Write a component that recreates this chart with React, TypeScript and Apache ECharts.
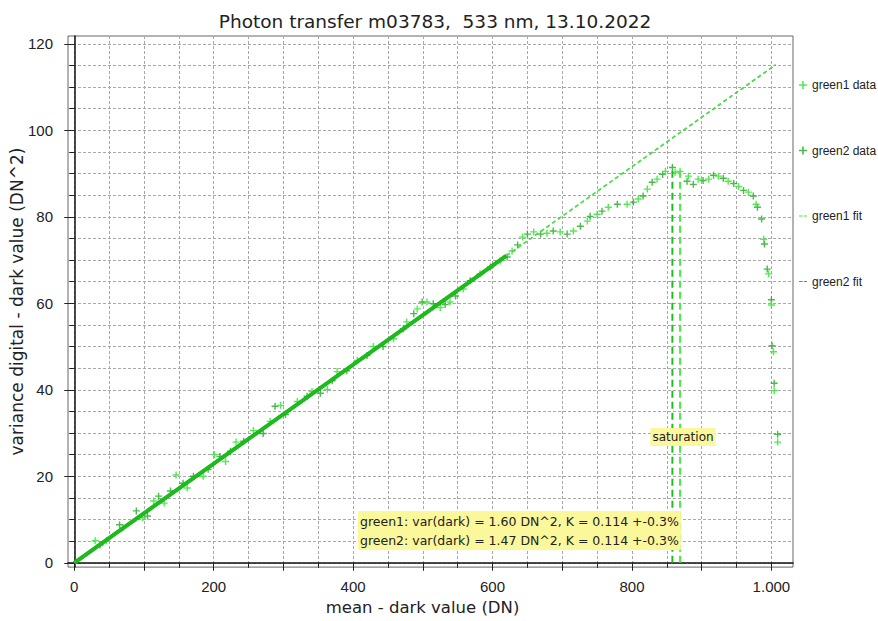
import React, { useEffect, useRef } from "react";
import * as echarts from "echarts";

const FONT = "'DejaVu Sans', Verdana, sans-serif";
const NUMFONT = "'Liberation Sans', Arial, sans-serif";

const titleText = "Photon transfer m03783,  533 nm, 13.10.2022";
const xName = "mean - dark value (DN)";
const yName = "variance digital - dark value (DN^2)";

const xMin = -9;
const xMax = 1031;
const yMin = -1;
const yMax = 121.8;

const xGridValues = [0, 50, 100, 150, 200, 250, 300, 350, 400, 450, 500, 550, 600, 650, 700, 750, 800, 850, 900, 950, 1000];
const xMajorTickValues = [0, 100, 200, 300, 400, 500, 600, 700, 800, 900, 1000];
const xLabelValues = [0, 200, 400, 600, 800, 1000];
const yGridValues = [0, 5, 10, 15, 20, 25, 30, 35, 40, 45, 50, 55, 60, 65, 70, 75, 80, 85, 90, 95, 100, 105, 110, 115, 120];
const yLabelValues = [0, 20, 40, 60, 80, 100, 120];

const green1Data: number[][] = [
  [30, 5.1], [46, 5.1], [70, 8.1], [98, 10.4], [114, 14.3], [129, 13.8], [146, 20.3], [162, 17.3],
  [185, 20], [201, 25], [217, 23.4], [232, 27.9], [257, 30.6], [281, 32.7], [296, 36.4], [320, 37.3],
  [341, 39.6], [363, 40.1], [377, 44.2], [406, 46.8], [429, 50], [458, 51.8], [477, 55.7], [492, 58.7],
  [506, 60.3], [525, 59], [539, 60.3], [558, 63.3], [582, 66.8], [611, 69.8], [628, 72.1], [643, 75.3],
  [659, 76.5], [678, 76.2], [697, 76.5], [716, 76.7], [736, 79], [750, 80.6], [766, 82.2], [793, 82.9],
  [809, 84.1], [822, 86.4], [836, 88.7], [848, 90.5], [862, 90.3], [869, 90.5], [881, 89.4], [895, 88.7],
  [910, 88.7], [924, 89.4], [938, 88.2], [953, 87], [967, 85.7], [978, 82.9], [989, 74.8], [996, 66.8],
  [1000, 59.6], [1003, 48.8], [1004, 39.8], [1009, 27.9],
];

const green2Data: number[][] = [
  [37, 4.1], [65, 8.8], [89, 12], [105, 10.8], [121, 15.4], [138, 16.6], [156, 18.4], [171, 20],
  [192, 21.6], [209, 24.6], [224, 25.8], [243, 28.1], [271, 29.9], [288, 36.2], [303, 34.3], [334, 38.5],
  [353, 39.2], [370, 42.1], [391, 44.4], [420, 47.9], [443, 50], [472, 54.1], [487, 57.6], [499, 60.3],
  [515, 59.9], [532, 59.7], [547, 61.7], [568, 65.2], [597, 68.4], [621, 70.7], [636, 73.5], [650, 76],
  [669, 76], [687, 76.7], [707, 76], [726, 77.8], [740, 80.1], [757, 81.3], [779, 82.9], [802, 83.4],
  [816, 84.8], [829, 88], [844, 89.8], [858, 91.4], [879, 88.2], [888, 87.5], [902, 88.4], [917, 89.6],
  [931, 88.9], [946, 87.7], [960, 86.1], [974, 84.8], [980, 82.2], [986, 79.5], [990, 73.7], [994, 67.9],
  [1000, 60.8], [1001, 50.2], [1004, 41.5], [1009, 29.7],
];

// fit lines: solid over fit range, dashed extrapolation
const green1FitRange: number[][] = [[0, 0], [620, 71.0]];
const green1FitExtra: number[][] = [[620, 71.0], [1006, 115.2]];
const green2FitRange: number[][] = [[0, 0], [620, 71.0]];
const green2FitExtra: number[][] = [[620, 71.0], [1006, 115.1]];

// saturation markers
const green2Saturation: number[][] = [[858, 0], [858, 91.6]];
const green1Saturation: number[][] = [[869, 0], [869, 91.0]];

const annotationLines = [
  "green1: var(dark) = 1.60 DN^2, K = 0.114 +-0.3%",
  "green2: var(dark) = 1.47 DN^2, K = 0.114 +-0.3%",
];
const saturationLabel = "saturation";

const C1 = "#3fe83f";
const C2 = "#1ea81e";
const PLUS = "path://M3.2,0H4.8V3.2H8V4.8H4.8V8H3.2V4.8H0V3.2H3.2Z";
const DASH = "path://M0,4H4.5V5.5H0Z M6,4H10V5.5H6Z";

export default function App() {
  const ref = useRef<HTMLDivElement>(null);
  useEffect(() => {
    if (!ref.current) return;
    const chart = echarts.init(ref.current, undefined, { renderer: "svg" });
    const gridStyle = { show: true, lineStyle: { color: "#a8a8a8", type: [3, 2] as any, width: 1 } };
    const option: any = {
      animation: false,
      backgroundColor: "#ffffff",
      textStyle: { fontFamily: FONT },
      title: {
        text: titleText,
        left: 430,
        textAlign: "center",
        top: 7,
        textStyle: { fontSize: 18.5, fontWeight: "normal", color: "#222", fontFamily: FONT },
      },
      grid: { left: 68, right: 85, top: 36, bottom: 52, show: true, borderColor: "#666", borderWidth: 1, containLabel: false },
      xAxis: [
        {
          type: "value", min: xMin, max: xMax, position: "bottom",
          name: xName, nameLocation: "middle", nameGap: 30,
          nameTextStyle: { fontSize: 16.5, color: "#222", fontFamily: FONT, padding: [0, 16, 0, 0] },
          axisLine: { show: true, lineStyle: { color: "#111", width: 1.5 } },
          axisTick: { show: true, customValues: xGridValues, length: 5, lineStyle: { color: "#222" } },
          axisLabel: {
            show: true, customValues: xLabelValues, margin: 12, fontSize: 15, color: "#222", fontFamily: NUMFONT,
            formatter: (v: number) => (v >= 1000 ? "1.000" : String(v)),
          },
          splitLine: gridStyle,
        },
        {
          type: "value", min: xMin, max: xMax, position: "bottom", gridIndex: 0,
          axisLine: { show: false },
          axisTick: { show: true, customValues: xMajorTickValues, length: 8, lineStyle: { color: "#222" } },
          axisLabel: { show: false },
          splitLine: { show: false },
        },
      ],
      yAxis: [
        {
          type: "value", min: yMin, max: yMax, position: "left",
          name: yName, nameLocation: "middle", nameGap: 43,
          nameTextStyle: { fontSize: 17, color: "#222", fontFamily: FONT },
          axisLine: { show: true, lineStyle: { color: "#111", width: 1.5 } },
          axisTick: { show: true, customValues: yGridValues, length: 5, lineStyle: { color: "#222" } },
          axisLabel: { show: false },
          splitLine: gridStyle,
        },
        {
          type: "value", min: yMin, max: yMax, position: "left",
          axisLine: { show: false },
          axisTick: { show: true, customValues: yLabelValues, length: 10, lineStyle: { color: "#222" } },
          axisLabel: { show: true, customValues: yLabelValues, margin: 15, fontSize: 15, color: "#222", fontFamily: NUMFONT },
          splitLine: { show: false },
        },
      ],
      legend: {
        orient: "vertical", left: 794, top: 74, itemGap: 53.5, itemWidth: 8, itemHeight: 9,
        selectedMode: false,
        textStyle: { fontSize: 12, color: "#222", fontFamily: NUMFONT },
        data: [
          { name: "green1 data", icon: PLUS, itemStyle: { color: C1 } },
          { name: "green2 data", icon: PLUS, itemStyle: { color: C2 } },
          { name: "green1 fit", icon: DASH, itemStyle: { color: "#44e844", borderWidth: 0 }, lineStyle: { color: "#44e844" } },
          { name: "green2 fit", icon: DASH, itemStyle: { color: "#22bb22", borderWidth: 0 }, lineStyle: { color: "#22bb22" } },
        ],
      },
      series: [
        {
          name: "green2 data", type: "scatter", data: green2Data, symbol: PLUS, symbolSize: 7,
          itemStyle: { color: C2 },
        },
        {
          name: "green1 data", type: "scatter", data: green1Data, symbol: PLUS, symbolSize: 7,
          itemStyle: { color: C1, opacity: 0.9 },
        },
        {
          name: "green2 fit", type: "line", data: green2FitRange, symbol: "none",
          itemStyle: { color: "#22bb22" }, lineStyle: { color: "#14b014", width: 4 },
        },
        {
          name: "green1 fit", type: "line", data: green1FitRange, symbol: "none",
          itemStyle: { color: "#44e844" }, lineStyle: { color: "#1cbc1c", width: 3 },
        },
        {
          name: "green2 fit", type: "line", data: green2FitExtra, symbol: "none",
          itemStyle: { color: "#22bb22" }, lineStyle: { color: "#2cc02c", width: 1.3, type: [4, 3] },
        },
        {
          name: "green1 fit", type: "line", data: green1FitExtra, symbol: "none",
          itemStyle: { color: "#44e844" }, lineStyle: { color: "#44e844", width: 1.3, type: [4, 3] },
        },
        {
          name: "green2 saturation", type: "line", data: green2Saturation, symbol: "none",
          itemStyle: { color: C2 }, lineStyle: { color: "#22bb22", width: 2, type: [7, 4] },
        },
        {
          name: "green1 saturation", type: "line", data: green1Saturation, symbol: "none",
          itemStyle: { color: C1 }, lineStyle: { color: "#44ee44", width: 2, type: [7, 4] },
        },
      ],
      graphic: [
        {
          type: "text", x: 683, y: 437, z: 100,
          style: {
            text: saturationLabel, align: "center", verticalAlign: "middle",
            font: `12px ${FONT}`, fill: "#222", backgroundColor: "#fbf79b", padding: [3, 2, 3, 2],
          },
        },
        {
          type: "text", x: 358, y: 511, z: 100,
          style: {
            text: annotationLines.join("\n"), align: "left", verticalAlign: "top",
            font: `12.5px ${FONT}`, lineHeight: 19, fill: "#222", backgroundColor: "#fbf79b", padding: [1, 2, 0, 2],
          },
        },
      ],
    };
    chart.setOption(option);
    return () => chart.dispose();
  }, []);
  return <div ref={ref} style={{ position: "fixed", left: 0, top: 0, width: 878, height: 621 }} />;
}
